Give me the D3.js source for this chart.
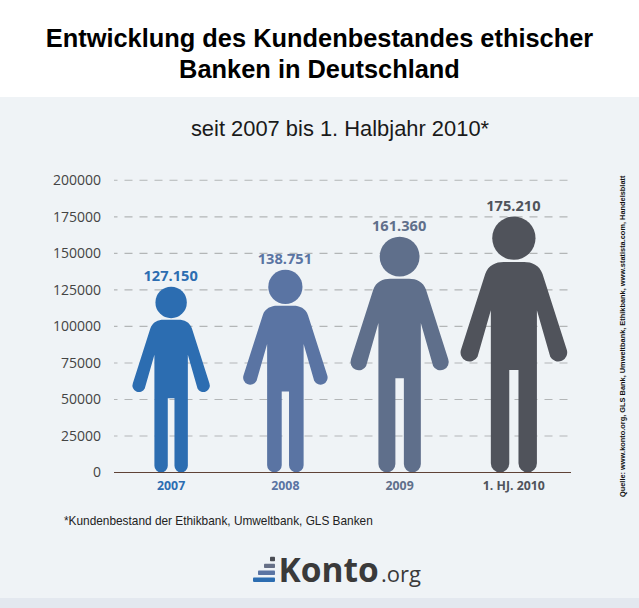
<!DOCTYPE html>
<html><head><meta charset="utf-8">
<script src="https://cdnjs.cloudflare.com/ajax/libs/d3/7.8.5/d3.min.js"></script>
<style>html,body{margin:0;padding:0;background:#eff3f6}svg{display:block}</style>
</head><body><svg id="c" width="639" height="608"></svg>
<script>
const categories = ["2007","2008","2009","1. HJ. 2010"];
const values = [127150,138751,161360,175210];
const valueLabels = ["127.150","138.751","161.360","175.210"];
const colors = ["#2c6db1","#5a74a3","#5f6f8b","#50535b"];
const yTicks = [0,25000,50000,75000,100000,125000,150000,175000,200000];
const titleLines = ["Entwicklung des Kundenbestandes ethischer","Banken in Deutschland"];
const subtitle = "seit 2007 bis 1. Halbjahr 2010*";
const footnote = "*Kundenbestand der Ethikbank, Umweltbank, GLS Banken";
const source = "Quelle: www.konto.org, GLS Bank, Umweltbank, Ethikbank, www.statista.com, Handelsblatt";
const logoBars = [22,17,11,5];
const logoColors = ["#2c6db1","#5a74a3","#656f86","#4a4d54"];

const svg = d3.select("#c");
const W=639,H=608;
svg.append("rect").attr("width",W).attr("height",H).attr("fill","#eff3f6");
svg.append("rect").attr("width",W).attr("height",97).attr("fill","#ffffff");
svg.append("rect").attr("y",598).attr("width",W).attr("height",10).attr("fill","#e3e8ef");

const sans="'Liberation Sans',Arial,sans-serif", open="'Open Sans',sans-serif";
const y=d3.scaleLinear().domain([0,200000]).range([472.5,180.3]);
const x=d3.scaleBand().domain(categories).range([114,571]);

svg.selectAll(".t").data(titleLines).join("text").attr("x",319.5).attr("y",(d,i)=>47+i*31)
 .attr("text-anchor","middle").attr("font-family",sans).attr("font-weight",700).attr("font-size",25.4).attr("fill","#000").text(d=>d);
svg.append("text").attr("x",340).attr("y",135.5).attr("text-anchor","middle").attr("font-family",sans)
 .attr("font-size",21.9).attr("fill","#1a1a1a").text(subtitle);

const axis=d3.axisLeft(y).tickValues(yTicks).tickFormat(d3.format("d")).tickSize(0).tickPadding(13);
const ag=svg.append("g").attr("transform","translate(114,0)").call(axis);
ag.select(".domain").remove();
ag.selectAll("text").attr("font-family",open).attr("font-size",14).attr("fill","#444");

svg.selectAll(".g").data(yTicks.filter(d=>d>0)).join("line")
 .attr("x1",114).attr("x2",571).attr("y1",d=>y(d)).attr("y2",d=>y(d))
 .attr("stroke","#b3b6b7").attr("stroke-width",1.1).attr("stroke-dasharray","8 7").attr("stroke-dashoffset",4.5);

// unit pictogram: feet at 0, top of the head at -1
const personPath="M.018 -.4V-.036A.036 .036 0 0 0 .09 -.036V-.634L.142 -.452A.0352 .0352 0 0 0 .206 -.481L.112 -.775C.1 -.81 .07 -.822 .04 -.822H-.04C-.07 -.822 -.1 -.81 -.112 -.775L-.206 -.481A.0352 .0352 0 0 0 -.142 -.452L-.09 -.634V-.036A.036 .036 0 0 0 -.018 -.036V-.4Z";
const data=categories.map((c,i)=>({c,v:values[i],l:valueLabels[i],col:colors[i]}));
const p=svg.selectAll(".p").data(data).join("g")
 .attr("transform",d=>`translate(${x(d.c)+x.bandwidth()/2},${y(0)}) scale(${y(0)-y(d.v)})`);
p.append("path").attr("d",personPath).attr("fill",d=>d.col);
p.append("circle").attr("cy",-.9155).attr("r",.0845).attr("fill",d=>d.col);

svg.append("line").attr("x1",114).attr("x2",571).attr("y1",y(0)).attr("y2",y(0)).attr("stroke","#5f4236").attr("stroke-width",1.1);

svg.selectAll(".v").data(data).join("text").attr("x",d=>x(d.c)+x.bandwidth()/2-.5).attr("y",d=>y(d.v)-5.5)
 .attr("text-anchor","middle").attr("font-family",open).attr("font-weight",700).attr("font-size",14.6).attr("fill",d=>d.col).text(d=>d.l);
svg.selectAll(".k").data(data).join("text").attr("x",d=>x(d.c)+x.bandwidth()/2).attr("y",490)
 .attr("text-anchor","middle").attr("font-family",open).attr("font-weight",700).attr("font-size",12.3).attr("fill",d=>d.col).text(d=>d.c);

svg.append("text").attr("x",64).attr("y",525).attr("font-family",sans).attr("font-size",11.85).attr("fill","#222").text(footnote);
svg.append("text").attr("transform","translate(625,497) rotate(-90)").attr("font-family",sans).attr("font-weight",700)
 .attr("font-size",7.4).attr("fill","#111").text(source);

svg.selectAll(".b").data(logoBars).join("rect").attr("x",d=>275-d).attr("y",(d,i)=>577.5-i*6.9).attr("width",d=>d)
 .attr("height",4.4).attr("rx",.8).attr("fill",(d,i)=>logoColors[i]);
svg.append("text").attr("x",278.5).attr("y",582).attr("font-family",open).attr("font-weight",700).attr("font-size",33.5).attr("fill","#3a3a3a").text("Konto");
svg.append("text").attr("x",381).attr("y",582).attr("font-family",open).attr("font-size",22).attr("fill","#3a3a3a").text(".org");
</script></body></html>
